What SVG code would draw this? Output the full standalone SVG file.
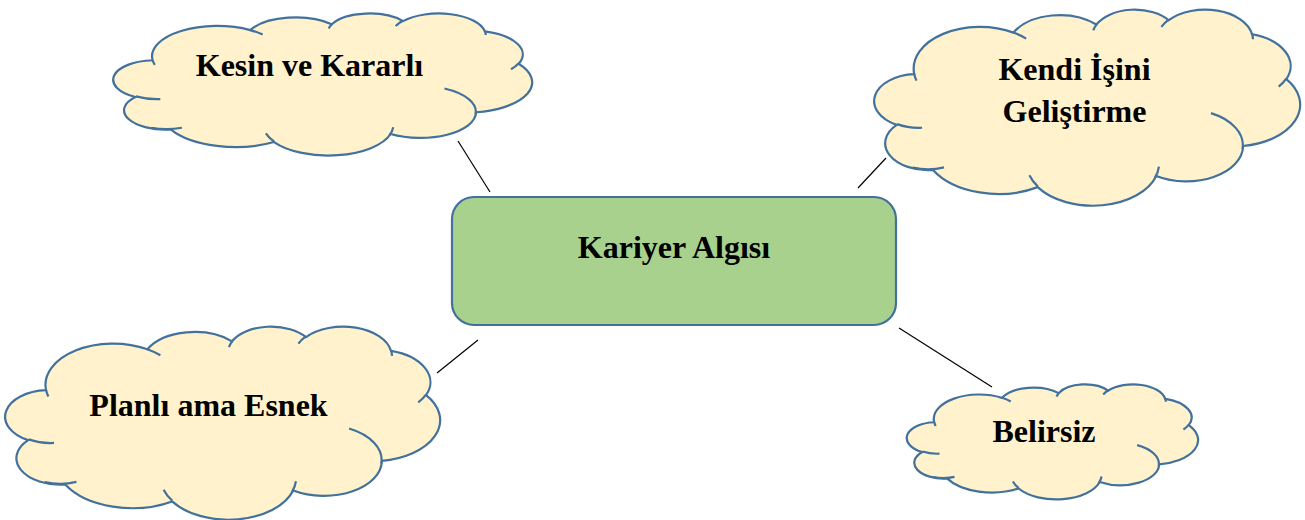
<svg xmlns="http://www.w3.org/2000/svg" xmlns:xlink="http://www.w3.org/1999/xlink" width="1305" height="520" viewBox="0 0 1305 520">
<style>
.cloud{fill:#FFF2CC;stroke:#41719C;stroke-width:2.2;}
.inner{fill:none;stroke:#41719C;stroke-width:2.2;}
.lbl{font-family:"Liberation Serif","Times New Roman",serif;font-weight:bold;font-size:32px;fill:#000;text-anchor:middle;}
.conn{stroke:#000;stroke-width:1.2;fill:none;}
</style>
<defs>
<path id="cloudOuter" vector-effect="non-scaling-stroke" d="M3900 14370 A6753 9190 0 0 1 14004 5201 A5333 7267 0 0 1 22452 3429 A4365 5945 0 0 1 29829 2477 A4857 6595 0 0 1 38314 5572 A5333 7273 0 0 1 41813 15456 A6775 9220 0 0 1 37400 30201 A5785 7867 0 0 1 28552 36812 A6752 9215 0 0 1 16476 39261 A7720 10543 0 0 1 5806 35467 A4360 5918 0 0 1 2111 25549 A4345 5945 0 0 1 3900 14370 Z"/>
<path id="cloudInner" vector-effect="non-scaling-stroke" d="M4693 26177 A4345 5945 0 0 1 2160 25380 M6928 34899 A4360 5918 0 0 1 3763 34936 M16478 39090 A6752 9215 0 0 1 15629 36638 M28827 34751 A6753 9190 0 0 1 28418 37223 M34129 22954 A5785 7867 0 0 1 37349 30816 M41798 15354 A5333 7273 0 0 1 41027 17103 M38324 5426 A4857 6595 0 0 1 38400 6689 M29078 3952 A4857 6595 0 0 1 29820 2340 M22141 4720 A4365 5945 0 0 1 22500 3330 M14000 5192 A6753 9190 0 0 1 15301 6541 M4127 15789 A6753 9190 0 0 1 3900 14370"/>
</defs>
<g id="connectors">
<line class="conn" x1="458" y1="141" x2="490" y2="192"/>
<line class="conn" x1="858" y1="188" x2="886" y2="158"/>
<line class="conn" x1="437" y1="373" x2="478" y2="340"/>
<line class="conn" x1="899" y1="328" x2="992" y2="387"/>
</g>
<g id="node-center">
<rect x="452" y="197" width="444" height="128" rx="22" ry="22" fill="#A9D18E" stroke="#41719C" stroke-width="2.2"/>
<text class="lbl" x="674" y="258">Kariyer Algısı</text>
</g>
<g id="node-kesin">
<g transform="translate(115 13) scale(0.009653 0.003287)">
<use xlink:href="#cloudOuter" class="cloud"/>
<use xlink:href="#cloudInner" class="inner"/>
</g>
<text class="lbl" x="309.5" y="76">Kesin ve Kararlı</text>
</g>
<g id="node-kendi">
<g transform="translate(876 9) scale(0.009815 0.004537)">
<use xlink:href="#cloudOuter" class="cloud"/>
<use xlink:href="#cloudInner" class="inner"/>
</g>
<text class="lbl" x="1074.5" y="80">Kendi İşini</text>
<text class="lbl" x="1074.5" y="122">Geliştirme</text>
</g>
<g id="node-planli">
<g transform="translate(7 326) scale(0.010023 0.004468)">
<use xlink:href="#cloudOuter" class="cloud"/>
<use xlink:href="#cloudInner" class="inner"/>
</g>
<text class="lbl" x="208.5" y="416">Planlı ama Esnek</text>
</g>
<g id="node-belirsiz">
<g transform="translate(908 384) scale(0.006713 0.002662)">
<use xlink:href="#cloudOuter" class="cloud"/>
<use xlink:href="#cloudInner" class="inner"/>
</g>
<text class="lbl" x="1044" y="442">Belirsiz</text>
</g>
</svg>
